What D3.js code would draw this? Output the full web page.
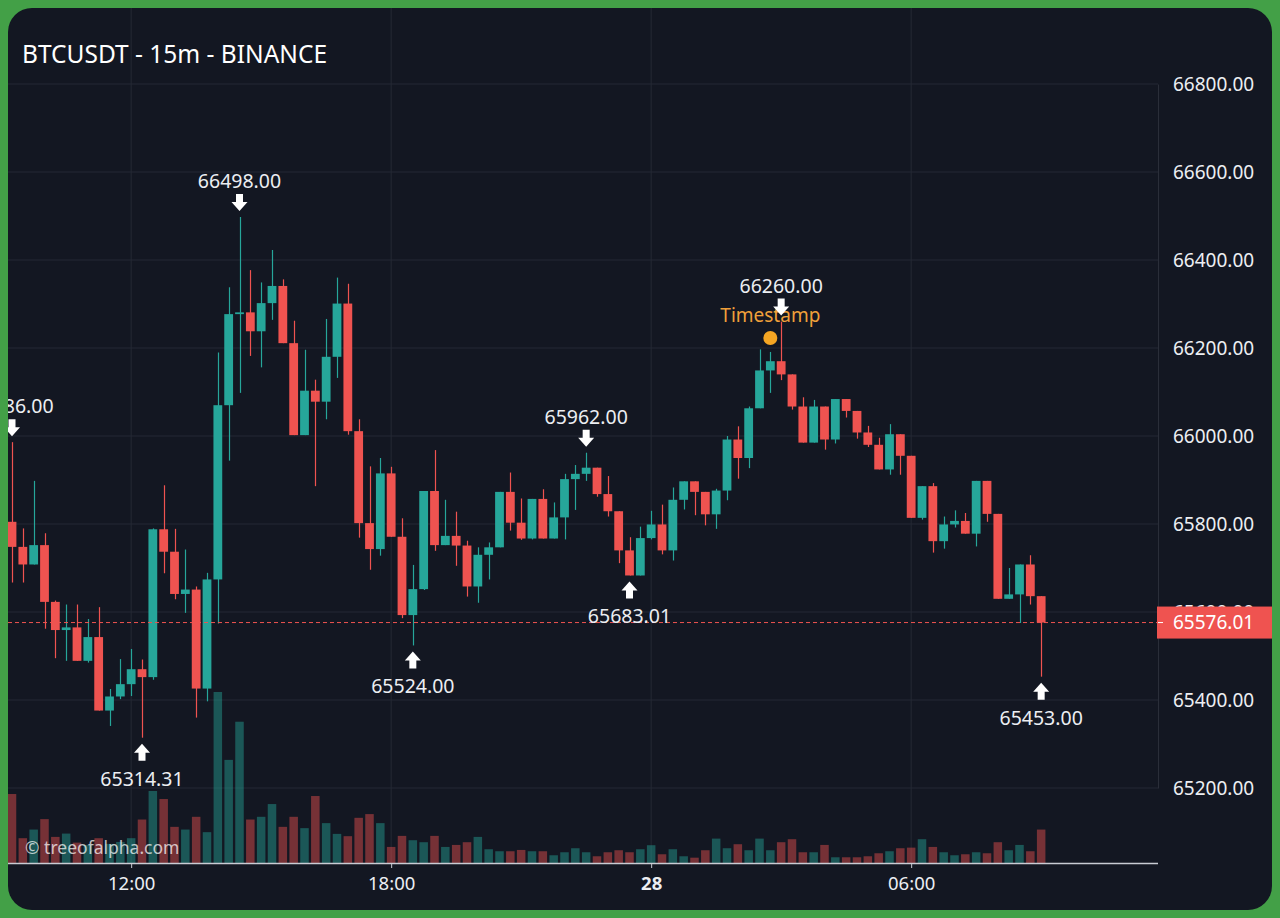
<!DOCTYPE html>
<html>
<head>
<meta charset="utf-8">
<script src="https://cdn.jsdelivr.net/npm/d3@7"></script>
<style>
html, body { margin: 0; padding: 0; background: #43a047; }
svg { display: block; }
</style>
</head>
<body>
<script>
// 15m candles, 27th 09:15 -> 28th 09:00
var opens = [65805, 65748, 65708, 65752, 65623, 65559, 65565, 65489, 65543, 65376, 65408, 65436,
    65470, 65452, 65788, 65737, 65641, 65651, 65426, 65674, 66070, 66277, 66281, 66238,
    66302, 66341, 66211, 66002, 66103, 66078, 66180, 66301, 66011, 65802, 65743, 65915,
    65771, 65593, 65652, 65875, 65752, 65773, 65751, 65658, 65730, 65747, 65873, 65803,
    65767, 65857, 65767, 65815, 65902, 65914, 65928, 65868, 65829, 65740, 65683, 65768,
    65799, 65740, 65855, 65897, 65873, 65822, 65876, 65992, 65950, 66063, 66149, 66170,
    66140, 66067, 65985, 66067, 65992, 66084, 66057, 66008, 65980, 65924, 66004, 65955,
    65814, 65886, 65761, 65799, 65807, 65778, 65898, 65823, 65630, 65640, 65708, 65636];
var highs = [65986, 65790, 65898, 65779, 65626, 65617, 65617, 65584, 65611, 65425, 65493, 65516,
    65492, 65790, 65888, 65789, 65742, 65658, 65689, 66190, 66338, 66498, 66377, 66349,
    66423, 66356, 66262, 66196, 66128, 66266, 66360, 66346, 66038, 65931, 65950, 65930,
    65813, 65707, 65875, 65968, 65855, 65828, 65762, 65747, 65758, 65873, 65917, 65858,
    65857, 65879, 65849, 65914, 65934, 65962, 65928, 65909, 65829, 65770, 65794, 65830,
    65844, 65883, 65897, 65897, 65873, 65880, 66000, 66022, 66067, 66197, 66191, 66260,
    66140, 66088, 66082, 66067, 66084, 66084, 66057, 66023, 65996, 66027, 66004, 65955,
    65886, 65893, 65817, 65831, 65825, 65898, 65898, 65823, 65700, 65708, 65729, 65636];
var lows = [65667, 65667, 65708, 65562, 65495, 65489, 65489, 65485, 65376, 65341, 65402, 65409,
    65314.31, 65446, 65688, 65629, 65598, 65360, 65397, 65574, 65944, 66098, 66182, 66156,
    66264, 66211, 66002, 66002, 65886, 66038, 66132, 66003, 65769, 65696, 65728, 65771,
    65586, 65524, 65650, 65739, 65752, 65705, 65635, 65621, 65674, 65747, 65785, 65764,
    65765, 65767, 65767, 65765, 65832, 65898, 65862, 65817, 65711, 65683.01, 65683, 65765,
    65731, 65717, 65833, 65820, 65797, 65789, 65854, 65903, 65927, 66063, 66098, 66127,
    66060, 65985, 65985, 65969, 65983, 66042, 65994, 65975, 65924, 65912, 65912, 65814,
    65810, 65735, 65744, 65792, 65778, 65749, 65805, 65630, 65630, 65575, 65617, 65453];
var closes = [65748, 65708, 65752, 65623, 65559, 65565, 65489, 65543, 65376, 65408, 65436, 65470,
    65452, 65788, 65737, 65641, 65651, 65426, 65674, 66070, 66277, 66281, 66238, 66302,
    66341, 66211, 66002, 66103, 66078, 66180, 66301, 66011, 65802, 65743, 65915, 65771,
    65593, 65652, 65875, 65752, 65773, 65751, 65658, 65730, 65747, 65873, 65803, 65767,
    65857, 65767, 65815, 65902, 65914, 65928, 65868, 65829, 65740, 65683.01, 65768, 65799,
    65740, 65855, 65897, 65873, 65822, 65876, 65992, 65950, 66063, 66149, 66170, 66140,
    66067, 65985, 66067, 65992, 66084, 66057, 66008, 65980, 65924, 66004, 65955, 65814,
    65886, 65761, 65799, 65807, 65778, 65898, 65823, 65630, 65640, 65708, 65636, 65576.01];
var volumes = [687, 247, 333, 437, 260, 293, 203, 180, 247, 190, 210, 247,
    433, 717, 637, 360, 333, 460, 307, 1703, 1027, 1407, 433, 460,
    587, 360, 460, 347, 667, 397, 290, 267, 450, 487, 397, 160,
    270, 227, 207, 270, 160, 180, 207, 260, 137, 117, 117, 130,
    117, 117, 77, 107, 147, 107, 67, 107, 127, 107, 137, 177,
    87, 137, 67, 53, 127, 243, 147, 187, 127, 243, 127, 207,
    237, 107, 107, 180, 57, 57, 57, 67, 97, 117, 147, 153,
    237, 160, 107, 77, 87, 107, 97, 207, 127, 180, 117, 333];

var priceTicks = [65200, 65400, 65600, 65800, 66000, 66200, 66400, 66600, 66800];
var timeTicks = [new Date(2024, 2, 27, 12), new Date(2024, 2, 27, 18), new Date(2024, 2, 28, 0), new Date(2024, 2, 28, 6)];
var highMarks = [0, 21, 53, 71]; // candles with a down arrow above
var lowMarks = [12, 37, 57, 95]; // candles with an up arrow below
var stampMark = 70;
var lastPrice = 65576.01;
var title = 'BTCUSDT - 15m - BINANCE';
var watermark = '\u00a9 treeofalpha.com';

var startTime = new Date(2024, 2, 27, 9, 15);
var times = opens.map(function(d, i) {
    return new Date(startTime.getTime() + i * 15 * 60000);
});

var scr = { w: 1280, h: 918 };
var panel = { left: 8, top: 8, right: 1272, bottom: 910 };
var plot = { left: 8, top: 8, right: 1158, bottom: 863 };
var colors = {
    bg: '#131722',
    grid: '#252935',
    up: '#26a69a',
    down: '#ef5350',
    text: '#eceef2'
};
var font = '"Noto Sans", "DejaVu Sans", sans-serif';

var svg = d3.select('body')
    .append('svg')
    .attr('width', scr.w)
    .attr('height', scr.h);

var defs = svg.append('defs');
defs.append('clipPath').attr('id', 'panelClip')
    .append('rect')
    .attr('x', panel.left).attr('y', panel.top)
    .attr('width', panel.right - panel.left).attr('height', panel.bottom - panel.top)
    .attr('rx', 24);
defs.append('clipPath').attr('id', 'plotClip')
    .append('rect')
    .attr('x', plot.left).attr('y', plot.top)
    .attr('width', plot.right - plot.left).attr('height', plot.bottom - plot.top);

svg.append('rect')
    .attr('width', scr.w).attr('height', scr.h)
    .attr('fill', '#43a047');

var root = svg.append('g').attr('clip-path', 'url(#panelClip)');
root.append('rect')
    .attr('x', panel.left).attr('y', panel.top)
    .attr('width', panel.right - panel.left).attr('height', panel.bottom - panel.top)
    .attr('fill', colors.bg);

var xScale = d3.scaleTime()
    .domain([times[0], times[times.length - 1]])
    .range([12, 12 + (times.length - 1) * 260 / 24]);
var yScale = d3.scaleLinear()
    .domain([65200, 66800])
    .range([788, 84]);
var volScale = d3.scaleLinear()
    .domain([0, d3.max(volumes)])
    .range([plot.bottom, plot.bottom - 0.2 * (plot.bottom - plot.top)]);

// grid
root.append('g').selectAll('line')
    .data(priceTicks)
    .enter()
    .append('line')
    .attr('x1', plot.left).attr('x2', plot.right)
    .attr('y1', function(d) { return yScale(d); })
    .attr('y2', function(d) { return yScale(d); })
    .attr('stroke', colors.grid);
root.append('g').selectAll('line')
    .data(timeTicks)
    .enter()
    .append('line')
    .attr('x1', function(d) { return xScale(d); })
    .attr('x2', function(d) { return xScale(d); })
    .attr('y1', plot.top).attr('y2', plot.bottom)
    .attr('stroke', colors.grid);

var chart = root.append('g').attr('clip-path', 'url(#plotClip)');

var candles = times.map(function(t, i) {
    return { t: t, o: opens[i], h: highs[i], l: lows[i], c: closes[i], v: volumes[i] };
});
var candleColor = function(d) {
    return d.c >= d.o ? colors.up : colors.down;
};

// volume
chart.append('g').selectAll('rect')
    .data(candles)
    .enter()
    .append('rect')
    .attr('x', function(d) { return xScale(d.t) - 4.25; })
    .attr('width', 8.5)
    .attr('y', function(d) { return volScale(d.v); })
    .attr('height', function(d) { return plot.bottom - volScale(d.v); })
    .attr('fill', candleColor)
    .attr('opacity', 0.45);

chart.append('text')
    .attr('x', 25).attr('y', 854)
    .attr('font-family', font).attr('font-size', 17.5)
    .attr('fill', '#ffffff').attr('fill-opacity', 0.72)
    .text(watermark);

var candleG = chart.append('g').selectAll('g')
    .data(candles)
    .enter()
    .append('g');
candleG.append('line')
    .attr('x1', function(d) { return Math.round(xScale(d.t)) + 0.5; })
    .attr('x2', function(d) { return Math.round(xScale(d.t)) + 0.5; })
    .attr('y1', function(d) { return yScale(d.h); })
    .attr('y2', function(d) { return yScale(d.l); })
    .attr('stroke', candleColor)
    .attr('stroke-width', 1.2);
candleG.append('rect')
    .attr('x', function(d) { return xScale(d.t) - 4.4; })
    .attr('width', 8.8)
    .attr('y', function(d) { return yScale(Math.max(d.o, d.c)); })
    .attr('height', function(d) { return Math.max(1.5, Math.abs(yScale(d.o) - yScale(d.c))); })
    .attr('fill', candleColor);

// last price line
chart.append('line')
    .attr('x1', plot.left).attr('x2', plot.right)
    .attr('y1', yScale(lastPrice)).attr('y2', yScale(lastPrice))
    .attr('stroke', colors.down)
    .attr('stroke-width', 1)
    .attr('stroke-dasharray', '4,3');

// markers
var fmt = d3.format('.2f');
var downArrow = function(cx, tip) {
    return 'M' + (cx - 3.5) + ',' + (tip - 17) + 'H' + (cx + 3.5) + 'V' + (tip - 9) +
        'H' + (cx + 8) + 'L' + cx + ',' + tip + 'L' + (cx - 8) + ',' + (tip - 9) + 'H' + (cx - 3.5) + 'Z';
};
var upArrow = function(cx, tip) {
    return 'M' + (cx - 3.5) + ',' + (tip + 17) + 'H' + (cx + 3.5) + 'V' + (tip + 9) +
        'H' + (cx + 8) + 'L' + cx + ',' + tip + 'L' + (cx - 8) + ',' + (tip + 9) + 'H' + (cx - 3.5) + 'Z';
};

var stamp = chart.append('g');
stamp.append('circle')
    .attr('cx', xScale(times[stampMark]))
    .attr('cy', yScale(highs[stampMark]) - 14)
    .attr('r', 7)
    .attr('fill', '#f5a623');
stamp.append('text')
    .attr('x', xScale(times[stampMark]))
    .attr('y', yScale(highs[stampMark]) - 30)
    .attr('text-anchor', 'middle')
    .attr('font-family', font).attr('font-size', 19)
    .attr('fill', '#f0a03a')
    .text('Timestamp');

var highG = chart.append('g').selectAll('g')
    .data(highMarks)
    .enter()
    .append('g');
highG.append('path')
    .attr('d', function(i) { return downArrow(xScale(times[i]), yScale(highs[i]) - 6); })
    .attr('fill', '#ffffff');
highG.append('text')
    .attr('x', function(i) { return xScale(times[i]); })
    .attr('y', function(i) { return yScale(highs[i]) - 29; })
    .attr('text-anchor', 'middle')
    .attr('font-family', font).attr('font-size', 19.5)
    .attr('fill', colors.text)
    .text(function(i) { return fmt(highs[i]); });

var lowG = chart.append('g').selectAll('g')
    .data(lowMarks)
    .enter()
    .append('g');
lowG.append('path')
    .attr('d', function(i) { return upArrow(xScale(times[i]), yScale(lows[i]) + 6); })
    .attr('fill', '#ffffff');
lowG.append('text')
    .attr('x', function(i) { return xScale(times[i]); })
    .attr('y', function(i) { return yScale(lows[i]) + 48; })
    .attr('text-anchor', 'middle')
    .attr('font-family', font).attr('font-size', 19.5)
    .attr('fill', colors.text)
    .text(function(i) { return fmt(lows[i]); });

// title
root.append('text')
    .attr('x', 22).attr('y', 63)
    .attr('font-family', font).attr('font-size', 24.5)
    .attr('fill', '#ffffff')
    .text(title);

// price axis
var yAxis = d3.axisRight(yScale)
    .tickValues(priceTicks)
    .tickFormat(fmt)
    .tickSize(0)
    .tickPadding(15);
var yAxisG = root.append('g')
    .attr('transform', 'translate(' + plot.right + ',0)')
    .call(yAxis);
yAxisG.select('.domain').attr('stroke', '#2a2e39');
yAxisG.selectAll('text')
    .attr('font-family', font).attr('font-size', 19)
    .attr('fill', colors.text);

// time axis
var xAxis = d3.axisBottom(xScale)
    .tickValues(timeTicks)
    .tickSize(5)
    .tickPadding(9)
    .tickFormat(function(d) {
        return d.getHours() === 0 ? d3.timeFormat('%-d')(d) : d3.timeFormat('%H:%M')(d);
    });
var xAxisG = root.append('g')
    .attr('transform', 'translate(0,' + plot.bottom + ')')
    .call(xAxis);
xAxisG.select('.domain')
    .attr('d', 'M' + plot.left + ',0.5H' + plot.right)
    .attr('stroke', '#c9ccd4').attr('stroke-width', 1.5);
xAxisG.selectAll('line').attr('stroke', '#c9ccd4');
xAxisG.selectAll('text')
    .attr('font-family', font).attr('font-size', 18.5)
    .attr('fill', colors.text)
    .attr('font-weight', function(d) { return d.getHours() === 0 ? 'bold' : 'normal'; });

// last price label
var lastG = root.append('g');
lastG.append('rect')
    .attr('x', plot.right - 1).attr('y', yScale(lastPrice) - 16)
    .attr('width', panel.right - plot.right + 1).attr('height', 32)
    .attr('fill', colors.down);
lastG.append('line')
    .attr('x1', plot.right).attr('x2', plot.right + 5)
    .attr('y1', yScale(lastPrice)).attr('y2', yScale(lastPrice))
    .attr('stroke', '#ffffff');
lastG.append('text')
    .attr('x', plot.right + 15).attr('y', yScale(lastPrice))
    .attr('dy', '0.35em')
    .attr('font-family', font).attr('font-size', 19)
    .attr('fill', '#ffffff')
    .text(fmt(lastPrice));
</script>
</body>
</html>
